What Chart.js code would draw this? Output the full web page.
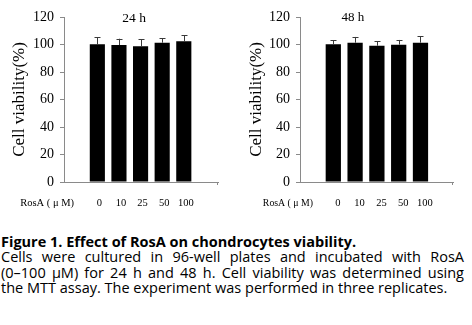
<!DOCTYPE html>
<html>
<head>
<meta charset="utf-8">
<script src="https://cdn.jsdelivr.net/npm/chart.js@4/dist/chart.umd.min.js"></script>
<style>
  html, body { margin: 0; padding: 0; background: #fff; }
  body { width: 472px; height: 325px; position: relative; overflow: hidden; }
  canvas { position: absolute; top: 0; }
  #c24 { left: 0; }
  #c48 { left: 230px; }
  #cap {
    position: absolute; left: 1px; top: 234px; width: 463px;
    font-family: "Open Sans", Lato, sans-serif; font-size: 14.5px; line-height: 15.3px; color: #000;
  }
  #cap .b { font-weight: bold; }
  #cap .j { text-align: justify; text-align-last: justify; }
</style>
</head>
<body>
<canvas id="c24" width="225" height="215"></canvas>
<canvas id="c48" width="230" height="215"></canvas>
<div id="cap">
  <div class="b">Figure 1. Effect of RosA on chondrocytes viability.</div>
  <div class="j">Cells were cultured in 96-well plates and incubated with RosA</div>
  <div class="j">(0–100 μM) for 24 h and 48 h. Cell viability was determined using</div>
  <div>the MTT assay. The experiment was performed in three replicates.</div>
</div>
<script>
// RosA concentrations (µM) on the x axis
const doses = ['0', '10', '25', '50', '100'];
// mean cell viability (%) and upper error (SD) after 24 h
const viability24 = [100.1, 99.6, 98.7, 101.3, 102.3];
const sd24 = [5.1, 4.6, 5.1, 3.2, 4.3];
// mean cell viability (%) and upper error (SD) after 48 h
const viability48 = [100.1, 101.3, 99.1, 99.9, 101.3];
const sd48 = [2.9, 4.2, 3.2, 3.4, 4.7];
// y axis range and step
const yMin = 0, yMax = 120, yStep = 20;

const SERIF = "'Liberation Serif', 'Times New Roman', serif";
const AXIS = '#8a8a8a';

// upper error bars with small caps
const errorBars = {
  id: 'errorBars',
  afterDatasetsDraw(chart) {
    const ctx = chart.ctx;
    const ds = chart.data.datasets[0];
    const ys = chart.scales.y;
    ctx.save();
    ctx.strokeStyle = '#3a3a3a';
    ctx.lineWidth = 1;
    chart.getDatasetMeta(0).data.forEach((bar, i) => {
      const x = Math.round(bar.x) + 0.5;
      const top = ys.getPixelForValue(ds.data[i].y + ds.errors[i]);
      ctx.beginPath();
      ctx.moveTo(x, bar.y);
      ctx.lineTo(x, top);
      ctx.moveTo(x - 3, Math.round(top) + 0.5);
      ctx.lineTo(x + 3, Math.round(top) + 0.5);
      ctx.stroke();
    });
    ctx.restore();
  }
};

// panel title, axis caption and end tick of the x axis
const panelText = {
  id: 'panelText',
  afterDraw(chart, args, opts) {
    const ctx = chart.ctx;
    const a = chart.chartArea;
    ctx.save();
    ctx.fillStyle = '#000';
    ctx.font = opts.titleSize + 'px ' + SERIF;
    ctx.textAlign = 'center';
    ctx.textBaseline = 'middle';
    ctx.fillText(opts.title, a.left + opts.titleAt * (a.right - a.left), a.top + 1);
    ctx.font = opts.unitSize + 'px ' + SERIF;
    ctx.textAlign = 'right';
    ctx.fillText('RosA ( μ M)', a.left + opts.unitEnd, opts.unitY);
    ctx.strokeStyle = AXIS;
    ctx.beginPath();
    ctx.moveTo(a.right - 0.5, a.bottom);
    ctx.lineTo(a.right - 0.5, a.bottom + 3);
    ctx.stroke();
    ctx.restore();
  }
};

function makeChart(id, values, errors, o) {
  return new Chart(document.getElementById(id), {
    type: 'bar',
    data: {
      datasets: [{
        data: values.map((v, i) => ({ x: i, y: v })),
        errors: errors,
        backgroundColor: '#000',
        borderWidth: 0,
        barPercentage: 0.7,
        categoryPercentage: 1
      }]
    },
    options: {
      responsive: false,
      animation: false,
      devicePixelRatio: 1,
      layout: { padding: { top: 17, right: 7, left: 0, bottom: 0 } },
      plugins: {
        legend: { display: false },
        tooltip: { enabled: false },
        panelText: o.text
      },
      scales: {
        x: {
          type: 'linear',
          min: o.xMin, max: o.xMax,
          afterFit: s => { s.height = 33; },
          grid: { display: false, drawTicks: false },
          border: { display: true, color: AXIS, width: 1 },
          ticks: {
            stepSize: 1,
            includeBounds: false,
            autoSkip: false,
            maxRotation: 0,
            padding: 15,
            labelOffset: o.labelOffset,
            color: '#000',
            font: { family: SERIF, size: 10.5 },
            callback: v => (Number.isInteger(v) && doses[v] !== undefined) ? doses[v] : ''
          }
        },
        y: {
          min: yMin, max: yMax,
          afterFit: s => { s.width = o.yWidth; },
          grid: { display: true, drawOnChartArea: false, drawTicks: true, tickLength: 4, color: AXIS },
          border: { display: true, color: AXIS, width: 1 },
          ticks: {
            stepSize: yStep,
            padding: 6,
            color: '#000',
            font: { family: SERIF, size: 14 }
          },
          title: {
            display: true,
            text: 'Cell viability(%)',
            color: '#000',
            font: { family: SERIF, size: 17 },
            padding: { top: o.titlePad, bottom: 0 }
          }
        }
      }
    },
    plugins: [errorBars, panelText]
  });
}

makeChart('c24', viability24, sd24, {
  xMin: -0.83, xMax: 4.87, yWidth: 64, titlePad: 9, labelOffset: 2,
  text: { title: '24 h', titleSize: 13.5, titleAt: 0.455, unitSize: 10.5, unitEnd: 10, unitY: 203 }
});
makeChart('c48', viability48, sd48, {
  xMin: -0.826, xMax: 4.79, yWidth: 70, titlePad: 16, labelOffset: 4.5,
  text: { title: '48 h', titleSize: 13, titleAt: 0.346, unitSize: 9.8, unitEnd: 13, unitY: 203 }
});
</script>
</body>
</html>
